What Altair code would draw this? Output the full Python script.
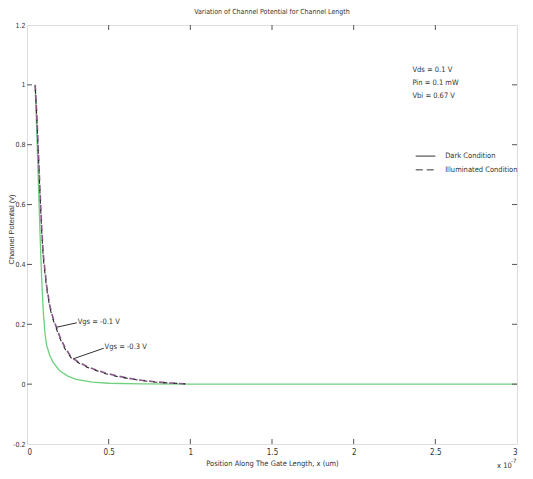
import altair as alt
import pandas as pd

FONT = "DejaVu Sans Condensed, Liberation Sans"

# Dark condition (solid green)
dark_x = [0.05, 0.06, 0.07, 0.08, 0.09, 0.10, 0.11, 0.12, 0.14, 0.16, 0.20, 0.25, 0.30, 0.40, 0.50, 0.70, 1.00, 1.50, 2.00, 2.50, 3.00]
dark_y = [1.00, 0.84, 0.67, 0.50, 0.35, 0.24, 0.17, 0.13, 0.095, 0.073, 0.045, 0.027, 0.016, 0.007, 0.003, 0.001, 0.0, 0.0, 0.0, 0.0, 0.0]

# Illuminated condition, Vgs = -0.1 V (purple dashed)
ill1_x = [0.05, 0.06, 0.07, 0.08, 0.09, 0.10, 0.12, 0.14, 0.16, 0.18, 0.20, 0.23, 0.27, 0.32, 0.37, 0.42, 0.48, 0.55, 0.62, 0.70, 0.78, 0.87, 0.97]
ill1_y = [1.00, 0.90, 0.77, 0.64, 0.52, 0.43, 0.33, 0.26, 0.22, 0.19, 0.16, 0.125, 0.09, 0.072, 0.058, 0.048, 0.037, 0.028, 0.02, 0.013, 0.008, 0.004, 0.001]

# Illuminated condition, Vgs = -0.3 V (black dashed)
ill3_x = [0.05, 0.06, 0.07, 0.08, 0.09, 0.10, 0.12, 0.14, 0.16, 0.18, 0.20, 0.23, 0.27, 0.32, 0.37, 0.42, 0.48, 0.55, 0.62, 0.70, 0.78, 0.87, 0.97]
ill3_y = [1.00, 0.89, 0.76, 0.63, 0.51, 0.42, 0.32, 0.255, 0.215, 0.185, 0.155, 0.12, 0.088, 0.07, 0.056, 0.046, 0.035, 0.026, 0.019, 0.012, 0.007, 0.004, 0.001]

# Annotation pointers
ptr_group = ["a", "a", "b", "b"]
ptr_x = [0.18, 0.305, 0.285, 0.47]
ptr_y = [0.19, 0.205, 0.085, 0.12]
ann_text = ["Vgs = -0.1 V", "Vgs = -0.3 V"]
ann_x = [0.31, 0.475]
ann_y = [0.207, 0.124]

# Parameter text
param_text = ["Vds = 0.1 V", "Pin = 0.1 mW", "Vbi = 0.67 V"]
param_x = [2.36, 2.36, 2.36]
param_y = [1.05, 1.006, 0.962]

# Legend
leg_labels = ["Dark Condition", "Illuminated Condition"]
leg_y = [0.762, 0.716]
leg_x1 = 2.38
leg_x2 = 2.50
leg_tx = 2.56

x_ticks = [0, 0.5, 1, 1.5, 2, 2.5, 3]
y_ticks = [-0.2, 0, 0.2, 0.4, 0.6, 0.8, 1, 1.2]

TITLE = "Variation of Channel Potential for Channel Length"
X_TITLE = "Position Along The Gate Length, x (um)"
Y_TITLE = "Channel Potential (v)"

W, H = 490, 419
xs = alt.Scale(domain=[0, 3], nice=False, zero=False)
ys = alt.Scale(domain=[-0.2, 1.2], nice=False, zero=False)
TXT = "#333333"
FS = 7.5

fmt = "replace(format(datum.value, '~g'), '\u2212', '-')"

df_dark = pd.DataFrame({"x": dark_x, "y": dark_y})
df_i1 = pd.DataFrame({"x": ill1_x, "y": ill1_y})
df_i3 = pd.DataFrame({"x": ill3_x, "y": ill3_y})

xenc = alt.X("x:Q", scale=xs,
             axis=alt.Axis(values=x_ticks, labelExpr=fmt, title=X_TITLE,
                           ticks=False, domain=False, grid=False, labelPadding=4,
                           labelFont=FONT, labelFontSize=8, labelColor=TXT,
                           titleY=19, titleBaseline="middle", titleFont=FONT,
                           titleFontSize=FS, titleFontWeight="normal", titleColor=TXT))
yenc = alt.Y("y:Q", scale=ys,
             axis=alt.Axis(values=y_ticks, labelExpr=fmt, title=Y_TITLE,
                           ticks=False, domain=False, grid=False, labelPadding=2,
                           labelFont=FONT, labelFontSize=7, labelColor=TXT,
                           titleX=-16, titleY=204, titleBaseline="middle",
                           titleFont="Liberation Sans", titleFontSize=7.5,
                           titleFontWeight="normal", titleColor=TXT))

green = alt.Chart(df_dark).mark_line(color="#6fd07e", strokeWidth=1.3).encode(x=xenc, y=yenc)
purple = alt.Chart(df_i1).mark_line(color="#8a5a8c", strokeWidth=1.7, strokeDash=[6, 4]).encode(
    x=alt.X("x:Q", scale=xs), y=alt.Y("y:Q", scale=ys))
black = alt.Chart(df_i3).mark_line(color="#2a2a2a", strokeWidth=1.1, strokeDash=[4, 6], strokeDashOffset=5).encode(
    x=alt.X("x:Q", scale=xs), y=alt.Y("y:Q", scale=ys))

df_ptr = pd.DataFrame({"g": ptr_group, "x": ptr_x, "y": ptr_y})
ptr = alt.Chart(df_ptr).mark_line(color="#333333", strokeWidth=1).encode(
    x=alt.X("x:Q", scale=xs), y=alt.Y("y:Q", scale=ys), detail="g:N")

df_ann = pd.DataFrame({"t": ann_text, "x": ann_x, "y": ann_y})
ann = alt.Chart(df_ann).mark_text(align="left", baseline="middle", font=FONT, fontSize=FS, color=TXT).encode(
    x=alt.X("x:Q", scale=xs), y=alt.Y("y:Q", scale=ys), text="t:N")

df_par = pd.DataFrame({"t": param_text, "x": param_x, "y": param_y})
par = alt.Chart(df_par).mark_text(align="left", baseline="middle", font=FONT, fontSize=FS, color=TXT).encode(
    x=alt.X("x:Q", scale=xs), y=alt.Y("y:Q", scale=ys), text="t:N")

df_leg = pd.DataFrame({"t": leg_labels, "x1": [leg_x1] * 2, "x2": [leg_x2] * 2, "y": leg_y, "tx": [leg_tx] * 2})
leg_solid = alt.Chart(df_leg.iloc[[0]]).mark_rule(color="#333333", strokeWidth=1).encode(
    x=alt.X("x1:Q", scale=xs), x2="x2:Q", y=alt.Y("y:Q", scale=ys))
leg_dash = alt.Chart(df_leg.iloc[[1]]).mark_rule(color="#333333", strokeWidth=1, strokeDash=[7, 4]).encode(
    x=alt.X("x1:Q", scale=xs), x2="x2:Q", y=alt.Y("y:Q", scale=ys))
leg_txt = alt.Chart(df_leg).mark_text(align="left", baseline="middle", font=FONT, fontSize=FS, color=TXT).encode(
    x=alt.X("tx:Q", scale=xs), y=alt.Y("y:Q", scale=ys), text="t:N")

# inward tick marks on all four sides
df_xt = pd.DataFrame({"v": x_ticks[1:-1]})
df_yt = pd.DataFrame({"v": y_ticks[1:-1]})
tick_color = "#555555"
xt_bot = alt.Chart(df_xt).mark_rule(color=tick_color).encode(
    x=alt.X("v:Q", scale=xs), y=alt.value(H), y2=alt.value(H - 5))
xt_top = alt.Chart(df_xt).mark_rule(color=tick_color).encode(
    x=alt.X("v:Q", scale=xs), y=alt.value(0), y2=alt.value(5))
yt_left = alt.Chart(df_yt).mark_rule(color=tick_color).encode(
    y=alt.Y("v:Q", scale=ys), x=alt.value(0), x2=alt.value(5))
yt_right = alt.Chart(df_yt).mark_rule(color=tick_color).encode(
    y=alt.Y("v:Q", scale=ys), x=alt.value(W), x2=alt.value(W - 5))

title_txt = alt.Chart(pd.DataFrame({"t": [TITLE]})).mark_text(
    align="center", baseline="middle", font=FONT, fontSize=7, color=TXT).encode(
    x=alt.value(W / 2), y=alt.value(-13), text="t:N")
exp_base = alt.Chart(pd.DataFrame({"t": ["x 10"]})).mark_text(
    align="left", baseline="middle", font=FONT, fontSize=7.5, color=TXT).encode(
    x=alt.value(470), y=alt.value(441), text="t:N")
exp_sup = alt.Chart(pd.DataFrame({"t": ["-7"]})).mark_text(
    align="left", baseline="middle", font=FONT, fontSize=6, color=TXT).encode(
    x=alt.value(484), y=alt.value(436), text="t:N")

chart = alt.layer(
    green, purple, black, ptr, ann, par, leg_solid, leg_dash, leg_txt,
    xt_bot, xt_top, yt_left, yt_right, title_txt, exp_base, exp_sup
).properties(
    width=W, height=H,
    autosize=alt.AutoSizeParams(type="none"),
    padding={"left": 19, "top": 17, "right": 8, "bottom": 27},
).configure_view(
    stroke="#555555", strokeWidth=1.5
).configure(background="white")

chart.save("out.html", embed_options={"renderer": "svg", "actions": False})
